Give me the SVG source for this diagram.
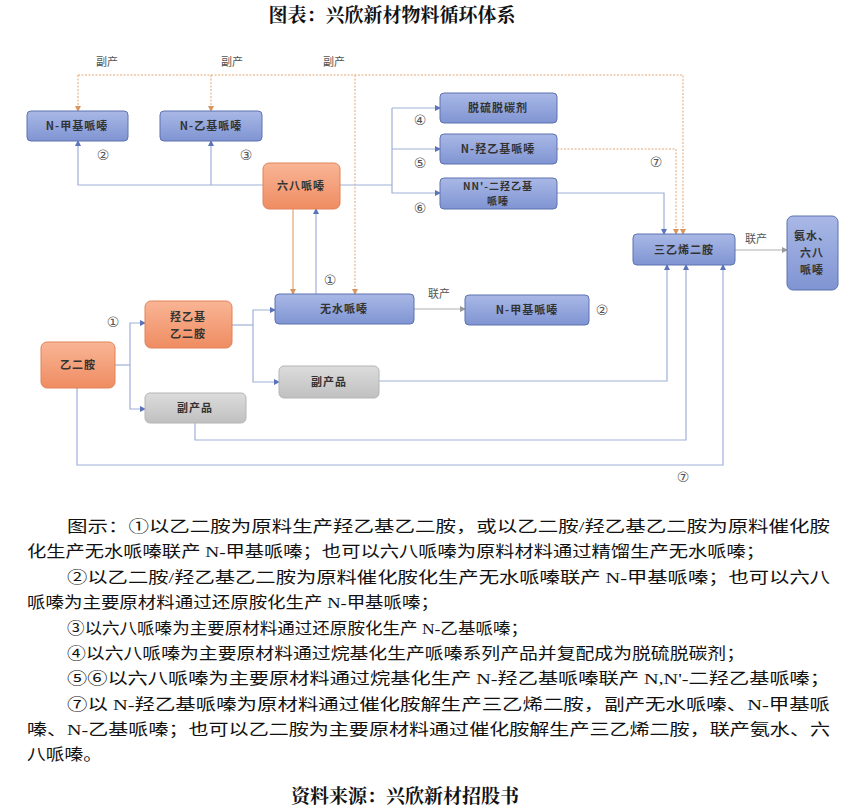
<svg xmlns="http://www.w3.org/2000/svg" width="852" height="812" viewBox="0 0 852 812">
<defs>
<linearGradient id="gb" x1="0" y1="0" x2="0" y2="1"><stop offset="0" stop-color="#a9b8e6"/><stop offset="1" stop-color="#7f94d2"/></linearGradient>
<linearGradient id="go" x1="0" y1="0" x2="0" y2="1"><stop offset="0" stop-color="#f9b595"/><stop offset="1" stop-color="#ef8c62"/></linearGradient>
<linearGradient id="gg" x1="0" y1="0" x2="0" y2="1"><stop offset="0" stop-color="#dcdcdc"/><stop offset="1" stop-color="#c0c0c0"/></linearGradient>
<marker id="ab" markerWidth="6" markerHeight="6" refX="5" refY="3" orient="auto" markerUnits="userSpaceOnUse"><path d="M0,0L6,3L0,6z" fill="#5b73b8"/></marker>
<marker id="ao" markerWidth="6" markerHeight="6" refX="5" refY="3" orient="auto" markerUnits="userSpaceOnUse"><path d="M0,0L6,3L0,6z" fill="#d9955e"/></marker>
<marker id="ag" markerWidth="6" markerHeight="6" refX="5" refY="3" orient="auto" markerUnits="userSpaceOnUse"><path d="M0,0L6,3L0,6z" fill="#999"/></marker>
</defs>
<style>
.b rect{fill:url(#gb);stroke:#5d72b0;stroke-width:1}
.o rect{fill:url(#go);stroke:#e0835a;stroke-width:1}
.g rect{fill:url(#gg);stroke:#b5b5b5;stroke-width:1}
.n text{font-family:"Noto Sans CJK SC",sans-serif;font-size:11px;font-weight:bold;fill:#333;text-anchor:middle;letter-spacing:1px}
.l{fill:none;stroke:#9fb0d8;stroke-width:1.2}
.lb{marker-end:url(#ab)}
.d{fill:none;stroke:#e3a776;stroke-width:1;stroke-dasharray:2,1.5}
.gl{fill:none;stroke:#b0b0b0;stroke-width:1.2;marker-end:url(#ag)}
.lab{font-family:"Noto Sans CJK SC",sans-serif;font-size:11px;fill:#555}
.c{font-family:"DejaVu Sans",sans-serif;font-size:14px;fill:#555;text-anchor:middle}
.t{font-family:"Liberation Serif","Noto Sans CJK SC",serif;font-size:15.5px;fill:#111}
.h{font-family:"Liberation Serif","Noto Serif CJK SC","Noto Sans CJK SC",serif;font-size:19px;font-weight:bold;fill:#111;text-anchor:middle}
</style>
<text class="h" x="392" y="22">图表：兴欣新材物料循环体系</text>
<g id="connectors">
<path class="l lb" d="M263,185H78V141"/>
<path class="l lb" d="M211,185V141"/>
<path class="d" d="M78,75H683V234" marker-end="url(#ao)"/>
<path class="d" d="M78,75V111" marker-end="url(#ao)"/>
<path class="d" d="M211,75V111" marker-end="url(#ao)"/>
<path class="d" d="M355,75V294" marker-end="url(#ao)"/>
<path class="l" d="M293,209V294" marker-end="url(#ao)" style="stroke:#e3a776"/>
<path class="l lb" d="M316,294V209"/>
<path class="l" d="M340,185H392"/>
<path class="l lb" d="M392,108V193H440"/>
<path class="l lb" d="M392,108H440"/>
<path class="l lb" d="M392,149H440"/>
<path class="d" d="M557,149H676V234" marker-end="url(#ao)"/>
<path class="l lb" d="M557,193H664V234"/>
<path class="gl" d="M735,250H787"/>
<path class="gl" d="M414,309H465"/>
<path class="l" d="M115,365H130"/>
<path class="l lb" d="M130,365V323H145"/>
<path class="l lb" d="M130,365V409H145"/>
<path class="l" d="M232,325H253"/>
<path class="l lb" d="M253,325V310H275"/>
<path class="l lb" d="M253,325V382H279"/>
<path class="l lb" d="M379,381H667V265"/>
<path class="l lb" d="M195,423V440H686V265"/>
<path class="l lb" d="M77,388V465H723V265"/>
</g>
<text class="lab" x="96" y="66">副产</text>
<text class="lab" x="221" y="66">副产</text>
<text class="lab" x="323" y="66">副产</text>
<text class="lab" x="745" y="243">联产</text>
<text class="lab" x="428" y="298">联产</text>
<text class="c" x="103" y="160">②</text>
<text class="c" x="246" y="160">③</text>
<text class="c" x="420" y="125">④</text>
<text class="c" x="420" y="168">⑤</text>
<text class="c" x="420" y="213">⑥</text>
<text class="c" x="656" y="167">⑦</text>
<text class="c" x="330" y="285">①</text>
<text class="c" x="113" y="327">①</text>
<text class="c" x="602" y="315">②</text>
<text class="c" x="683" y="482">⑦</text>
<g id="n1" class="n b"><rect x="27" y="111" width="101" height="30" rx="4"/><text x="77" y="130">N-甲基哌嗪</text></g>
<g id="n2" class="n b"><rect x="160" y="111" width="102" height="30" rx="4"/><text x="211" y="130">N-乙基哌嗪</text></g>
<g id="n3" class="n o"><rect x="263" y="163" width="77" height="46" rx="6"/><text x="301" y="190">六八哌嗪</text></g>
<g id="n4" class="n b"><rect x="440" y="93" width="117" height="30" rx="4"/><text x="498" y="112">脱硫脱碳剂</text></g>
<g id="n5" class="n b"><rect x="440" y="134" width="117" height="30" rx="4"/><text x="498" y="153">N-羟乙基哌嗪</text></g>
<g id="n6" class="n b"><rect x="440" y="178" width="117" height="31" rx="4"/><text x="498" y="190" style="font-size:10px">NN'-二羟乙基</text><text x="498" y="205" style="font-size:10px">哌嗪</text></g>
<g id="n7" class="n b"><rect x="633" y="234" width="102" height="31" rx="4"/><text x="684" y="254">三乙烯二胺</text></g>
<g id="n8" class="n b"><rect x="787" y="216" width="51" height="74" rx="6"/><text x="812" y="240">氨水、</text><text x="812" y="257">六八</text><text x="812" y="274">哌嗪</text></g>
<g id="n9" class="n b"><rect x="275" y="294" width="139" height="30" rx="4"/><text x="344" y="313">无水哌嗪</text></g>
<g id="n10" class="n b"><rect x="465" y="295" width="124" height="30" rx="4"/><text x="527" y="314">N-甲基哌嗪</text></g>
<g id="n11" class="n o"><rect x="145" y="301" width="87" height="47" rx="6"/><text x="188" y="321">羟乙基</text><text x="188" y="338">乙二胺</text></g>
<g id="n12" class="n o"><rect x="41" y="342" width="74" height="46" rx="6"/><text x="78" y="369">乙二胺</text></g>
<g id="n13" class="n g"><rect x="279" y="366" width="100" height="32" rx="5"/><text x="329" y="386">副产品</text></g>
<g id="n14" class="n g"><rect x="145" y="393" width="101" height="30" rx="5"/><text x="195" y="412">副产品</text></g>
<text class="t" x="67" y="532" textLength="763" lengthAdjust="spacingAndGlyphs">图示：①以乙二胺为原料生产羟乙基乙二胺，或以乙二胺/羟乙基乙二胺为原料催化胺</text>
<text class="t" x="27" y="557" textLength="738" lengthAdjust="spacingAndGlyphs">化生产无水哌嗪联产 N-甲基哌嗪；也可以六八哌嗪为原料材料通过精馏生产无水哌嗪；</text>
<text class="t" x="67" y="583" textLength="763" lengthAdjust="spacingAndGlyphs">②以乙二胺/羟乙基乙二胺为原料催化胺化生产无水哌嗪联产 N-甲基哌嗪；也可以六八</text>
<text class="t" x="27" y="608" textLength="412" lengthAdjust="spacingAndGlyphs">哌嗪为主要原材料通过还原胺化生产 N-甲基哌嗪；</text>
<text class="t" x="67" y="634" textLength="461" lengthAdjust="spacingAndGlyphs">③以六八哌嗪为主要原材料通过还原胺化生产 N-乙基哌嗪；</text>
<text class="t" x="67" y="659" textLength="678" lengthAdjust="spacingAndGlyphs">④以六八哌嗪为主要原材料通过烷基化生产哌嗪系列产品并复配成为脱硫脱碳剂；</text>
<text class="t" x="67" y="684" textLength="763" lengthAdjust="spacingAndGlyphs">⑤⑥以六八哌嗪为主要原材料通过烷基化生产 N-羟乙基哌嗪联产 N,N'-二羟乙基哌嗪；</text>
<text class="t" x="67" y="710" textLength="763" lengthAdjust="spacingAndGlyphs">⑦以 N-羟乙基哌嗪为原材料通过催化胺解生产三乙烯二胺，副产无水哌嗪、N-甲基哌</text>
<text class="t" x="27" y="735" textLength="803" lengthAdjust="spacingAndGlyphs">嗪、N-乙基哌嗪；也可以乙二胺为主要原材料通过催化胺解生产三乙烯二胺，联产氨水、六</text>
<text class="t" x="27" y="760" textLength="75" lengthAdjust="spacingAndGlyphs">八哌嗪。</text>
<text class="h" x="405" y="803">资料来源：兴欣新材招股书</text>
</svg>
